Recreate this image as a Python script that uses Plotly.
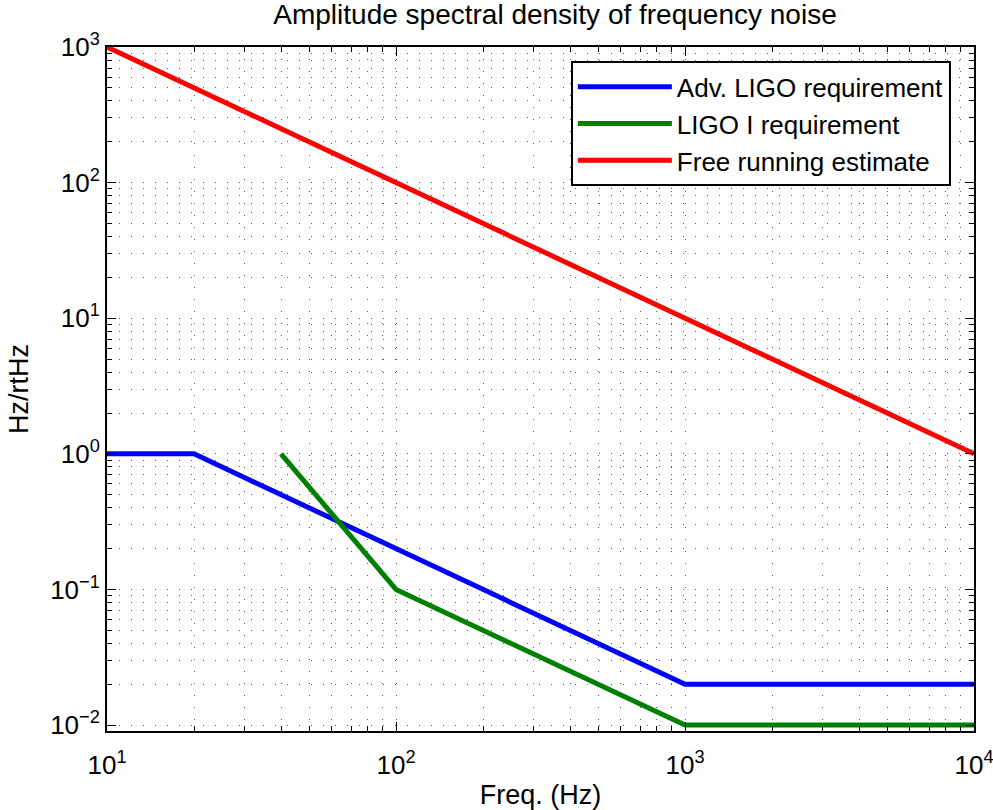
import plotly.graph_objects as go

# Data
freq_adv = [10, 20, 1000, 10000]
asd_adv = [1, 1, 0.02, 0.02]
freq_ligo1 = [40, 100, 1000, 10000]
asd_ligo1 = [1, 0.1, 0.01, 0.01]
freq_free = [10, 10000]
asd_free = [1000, 1]

x_tickvals = [10, 100, 1000, 10000]
x_ticktext = ["10<sup>1</sup>", "10<sup>2</sup>", "10<sup>3</sup>", "10<sup>4</sup>"]
y_tickvals = [0.01, 0.1, 1, 10, 100, 1000]
y_ticktext = ["10<sup>\u22122</sup>", "10<sup>\u22121</sup>", "10<sup>0</sup>",
              "10<sup>1</sup>", "10<sup>2</sup>", "10<sup>3</sup>"]

FONT = "Liberation Sans, Arial, sans-serif"

fig = go.Figure()
fig.add_trace(go.Scatter(x=freq_adv, y=asd_adv, mode="lines", name="Adv. LIGO requirement",
                         line=dict(color="#0000ff", width=5)))
fig.add_trace(go.Scatter(x=freq_ligo1, y=asd_ligo1, mode="lines", name="LIGO I requirement",
                         line=dict(color="#008000", width=5)))
fig.add_trace(go.Scatter(x=freq_free, y=asd_free, mode="lines", name="Free running estimate",
                         line=dict(color="#ff0000", width=5)))

def minor_vals(lo, hi):
    vals = []
    d = lo
    while d < hi:
        for m in range(2, 10):
            vals.append(m * d)
        d *= 10
    return vals

grid_common = dict(gridcolor="rgba(0,0,0,0.65)", griddash="1px,11px", gridwidth=1)

fig.update_xaxes(type="log", range=[1, 4], tickvals=x_tickvals, ticktext=x_ticktext,
                 showline=True, linecolor="black", linewidth=2, mirror="allticks",
                 ticks="inside", ticklen=9, tickcolor="black", tickwidth=1,
                 showgrid=True, **grid_common,
                 minor=dict(tickvals=minor_vals(10, 10000), ticks="inside", ticklen=5,
                            tickcolor="black", showgrid=True, **grid_common),
                 tickfont=dict(size=26, color="black", family=FONT),
                 ticklabeloverflow="allow", automargin=False, ticklabelstandoff=10,
                 title=dict(text="Freq. (Hz)", font=dict(size=27, color="black", family=FONT),
                            standoff=16),
                 zeroline=False)
fig.update_yaxes(type="log", range=[-2.044, 3], tickvals=y_tickvals, ticktext=y_ticktext,
                 showline=True, linecolor="black", linewidth=2, mirror="allticks",
                 ticks="inside", ticklen=9, tickcolor="black", tickwidth=1,
                 showgrid=True, **grid_common,
                 minor=dict(tickvals=minor_vals(0.01, 1000), ticks="inside", ticklen=5,
                            tickcolor="black", showgrid=True, **grid_common),
                 tickfont=dict(size=26, color="black", family=FONT),
                 ticklabeloverflow="allow", automargin=False,
                 title=dict(text="Hz/rtHz", font=dict(size=27, color="black", family=FONT),
                            standoff=14),
                 zeroline=False)

fig.update_layout(
    width=993, height=810,
    margin=dict(l=107, r=19, t=47, b=79),
    paper_bgcolor="white", plot_bgcolor="white",
    title=dict(text="Amplitude spectral density of frequency noise",
               font=dict(size=28, color="black", family=FONT),
               x=555 / 993, xanchor="center", y=0.982, yanchor="middle"),
    legend=dict(x=0.535, y=0.979, xanchor="left", yanchor="top",
                bgcolor="white", bordercolor="black", borderwidth=2,
                font=dict(size=26, color="black", family=FONT),
                itemwidth=94, tracegroupgap=0),
    showlegend=True,
)

fig.write_html("out.html")
